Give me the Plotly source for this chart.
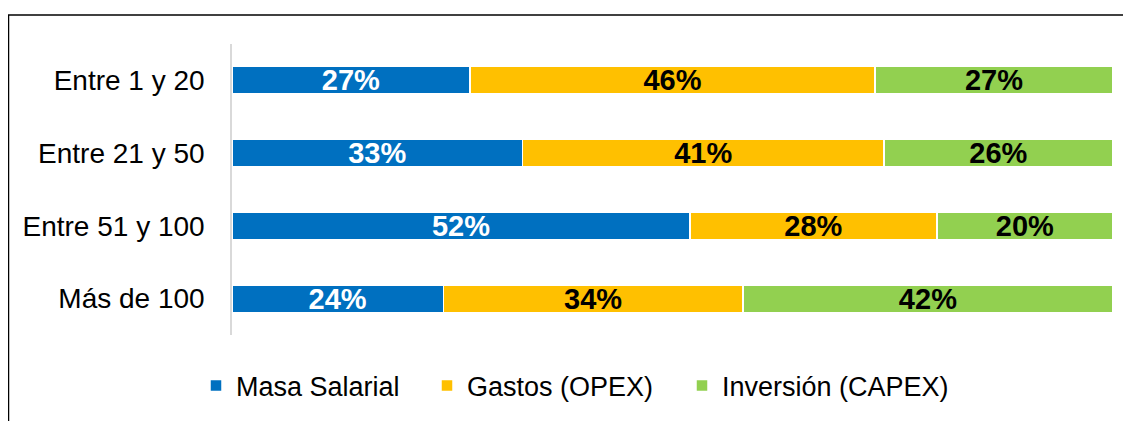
import plotly.graph_objects as go

categories = ["Entre 1 y 20", "Entre 21 y 50", "Entre 51 y 100", "Más de 100"]
masa_salarial = [27, 33, 52, 24]
gastos_opex = [46, 41, 28, 34]
inversion_capex = [27, 26, 20, 42]

series = [
    ("Masa Salarial", masa_salarial, "#0070C0", "white", "legend", 196),
    ("Gastos (OPEX)", gastos_opex, "#FFC000", "black", "legend2", 427),
    ("Inversión (CAPEX)", inversion_capex, "#92D050", "black", "legend3", 682),
]

FONT = "Liberation Sans, Arial, sans-serif"

# page body has an 8px margin; work in screen pixels and convert
OFF = 8
W, H = 1131 - OFF, 421 - OFF
L = 232 - OFF
T = 44 - OFF
R = W - (1113 - OFF)
B = H - (336 - OFF)
pw = W - L - R
ph = H - T - B

def px_x(p):
    return (p - OFF - L) / pw

def px_y(p):
    return (H - B - (p - OFF)) / ph

fig = go.Figure()
for name, vals, color, tcolor, leg, lx in series:
    fig.add_trace(go.Bar(
        y=categories, x=vals, name=name, orientation="h", legend=leg,
        marker=dict(color=color, line=dict(color="white", width=1.5)),
        texttemplate="<b>%{x}%</b>", textposition="inside",
        insidetextanchor="middle", constraintext="none",
        textfont=dict(family=FONT, size=29, color=tcolor),
    ))

legend_common = dict(orientation="h", xanchor="left", y=px_y(386), yanchor="middle",
                     font=dict(family=FONT, size=27, color="black"),
                     bgcolor="rgba(0,0,0,0)")

fig.update_layout(
    width=W, height=H,
    barmode="stack", bargap=0.62,
    paper_bgcolor="white", plot_bgcolor="white",
    margin=dict(l=L, r=R, t=T, b=B, pad=0),
    font=dict(family=FONT, size=27, color="black"),
    uniformtext=dict(minsize=29, mode="show"),
    xaxis=dict(range=[0, 100], visible=False, fixedrange=True),
    yaxis=dict(categoryorder="array", categoryarray=categories, autorange="reversed",
               showline=True, linecolor="#D9D9D9", linewidth=1.5,
               showgrid=False, ticks="", ticklabelstandoff=20,
               tickfont=dict(family=FONT, size=28, color="black")),
    showlegend=True,
    legend=dict(x=px_x(series[0][5]), **legend_common),
    legend2=dict(x=px_x(series[1][5]), **legend_common),
    legend3=dict(x=px_x(series[2][5]), **legend_common),
    shapes=[
        dict(type="line", xref="paper", yref="paper", x0=px_x(8), x1=px_x(1140), y0=px_y(15), y1=px_y(15),
             line=dict(color="black", width=1.5)),
        dict(type="line", xref="paper", yref="paper", x0=px_x(8.5), x1=px_x(8.5), y0=px_y(15), y1=px_y(430),
             line=dict(color="black", width=1.5)),
    ],
)

fig.write_html("out.html")
